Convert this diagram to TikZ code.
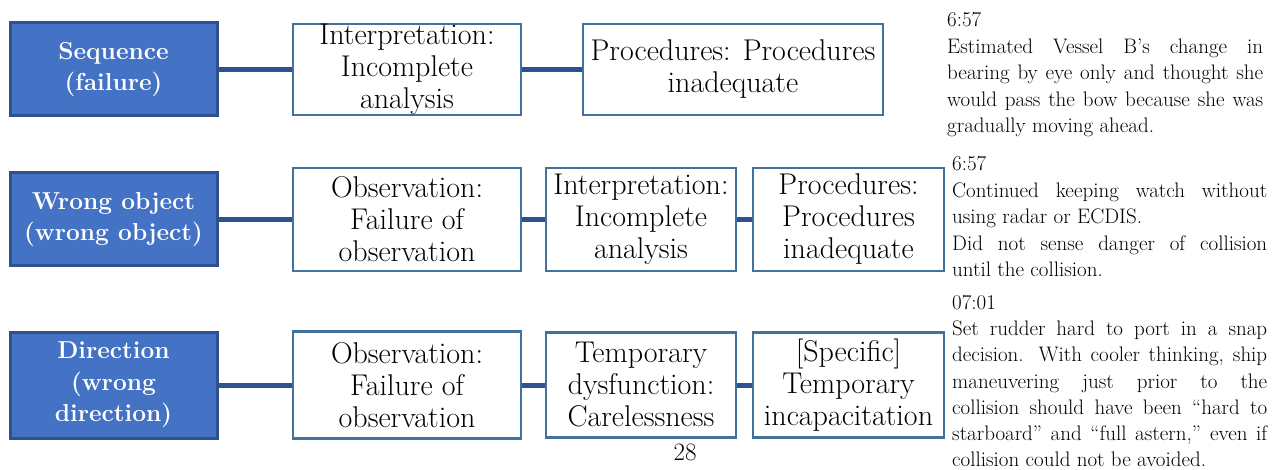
\documentclass[tikz,border=0pt]{standalone}
\usetikzlibrary{positioning}
\definecolor{catfill}{HTML}{4472C4}
\definecolor{catline}{HTML}{2F528F}
\definecolor{boxline}{HTML}{41719C}
\definecolor{conn}{HTML}{2F528F}
\tikzset{
  catbox/.style={rectangle, fill=catfill, draw=catline, line width=3pt, text=white,
    align=center, inner sep=0pt, font=\fontsize{24.5}{31.5}\selectfont\bfseries},
  factbox/.style={rectangle, fill=white, draw=boxline, line width=2.2pt, text=black,
    align=center, inner sep=0pt, font=\fontsize{30}{32}\selectfont},
  link/.style={draw=conn, line width=5pt},
  note/.style={anchor=north west, inner sep=0pt, text width=316pt, align=justify,
    font=\fontsize{21}{26.6}\selectfont}
}
\begin{document}
\begin{tikzpicture}[x=1pt,y=-1pt]
\useasboundingbox (0,0) rectangle (1282,470);
% row 1
\node[catbox, minimum width=207pt, minimum height=93pt] (L1) at (113.5,69.5) {Sequence\\(failure)};
\node[factbox, minimum width=228pt, minimum height=91pt] (I1) at (407,69.5) {Interpretation:\\Incomplete\\analysis};
\node[factbox, minimum width=300pt, minimum height=91pt] (P1) at (733,69.5) {Procedures: Procedures\\inadequate};
% row 2
\node[catbox, minimum width=207pt, minimum height=93pt] (L2) at (113.5,219.5) {Wrong object\\(wrong object)};
\node[factbox, minimum width=228pt, minimum height=103pt] (O2) at (407,219.5) {Observation:\\Failure of\\observation};
\node[factbox, minimum width=190pt, minimum height=103pt] (I2) at (641,219.5) {Interpretation:\\Incomplete\\analysis};
\node[factbox, minimum width=191pt, minimum height=103pt] (P2) at (848.5,219.5) {Procedures:\\Procedures\\inadequate};
% row 3
\node[catbox, minimum width=207pt, minimum height=106pt] (L3) at (113.5,385) {Direction\\(wrong\\direction)};
\node[factbox, minimum width=228pt, minimum height=107pt] (O3) at (407,385) {Observation:\\Failure of\\observation};
\node[factbox, minimum width=190pt, minimum height=105pt] (T3) at (641,385) {Temporary\\dysfunction:\\Carelessness};
\node[factbox, minimum width=191pt, minimum height=105pt] (S3) at (848.5,385) {[Specific]\\Temporary\\incapacitation};
% connectors
\draw[link] (L1.east) -- (I1.west);
\draw[link] (I1.east) -- (P1.west);
\draw[link] (L2.east) -- (O2.west);
\draw[link] (O2.east) -- (I2.west);
\draw[link] (I2.east) -- (P2.west);
\draw[link] (L3.east) -- (O3.west);
\draw[link] (O3.east) -- (T3.west);
\draw[link] (T3.east) -- (S3.west);
% page number
\node[inner sep=0pt, font=\fontsize{25}{28}\selectfont] (pg) at (685,452) {28};
% notes
\node[note] (N1) at (947,12) {6:57\par
Estimated Vessel B’s change in\linebreak
bearing by eye only and thought she\linebreak
would pass the bow because she was\linebreak
gradually moving ahead.};
\node[note, text width=315pt] (N2) at (952,156) {6:57\par
Continued keeping watch without\linebreak
using radar or ECDIS.\par
Did not sense danger of collision\linebreak
until the collision.};
\node[note, text width=315pt, font=\fontsize{21}{26.2}\selectfont] (N3) at (952,295) {07:01\par
Set rudder hard to port in a snap\linebreak
decision. With cooler thinking, ship\linebreak
maneuvering just prior to the\linebreak
collision should have been “hard to\linebreak
starboard” and “full astern,” even if\linebreak
collision could not be avoided.};
\end{tikzpicture}
\end{document}
